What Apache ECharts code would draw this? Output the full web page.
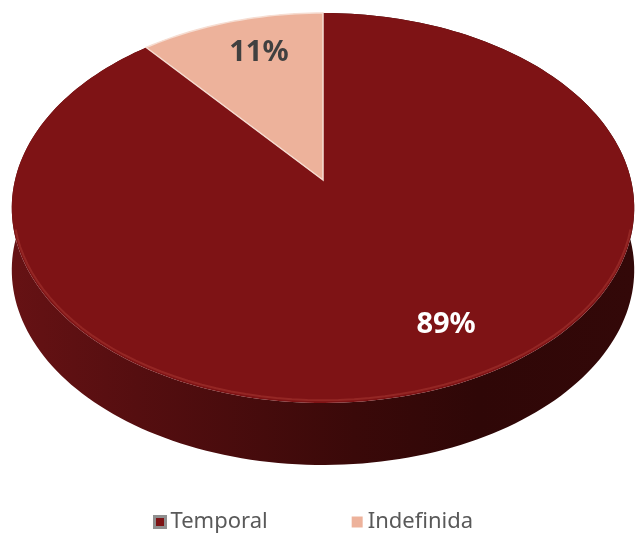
<!DOCTYPE html>
<html>
<head>
<meta charset="utf-8">
<script src="https://cdn.jsdelivr.net/npm/echarts@6/dist/echarts.min.js"></script>
<style>
html, body { margin: 0; padding: 0; background: #fff; }
#container { width: 636px; height: 533px; }
</style>
</head>
<body>
<div id="container"></div>
<script>
var categories = ['Temporal', 'Indefinida'];
var values = [89, 11];
var labels = ['89%', '11%'];

var colors = ['#7e1315', '#edb29b'];
var labelColors = ['#ffffff', '#404040'];
var labelShift = [[36, -5], [7, -5]];

var dom = document.getElementById('container');
var myChart = echarts.init(dom);

// tilted disc seen in perspective
var cx = 323, d = 308, pa = 165.1, pb = 180, pc = -0.1436, depth = 62;
function proj(u, v) {
    var w = 1 + pc * v;
    return [cx + d * u / w, (pa * v + pb) / w];
}
// t: degrees clockwise from 12 o'clock, r: 0..1
function disc(t, r) {
    var a = t * Math.PI / 180;
    return proj(r * Math.sin(a), -r * Math.cos(a));
}

var total = values.reduce(function (s, v) { return s + v; }, 0);
var starts = [];
var acc = 0;
values.forEach(function (v) { starts.push(acc / total * 360); acc += v; });

var wallColor = new echarts.graphic.LinearGradient(12, 0, 634, 0, [
    { offset: 0, color: '#661214' },
    { offset: 0.2, color: '#550e10' },
    { offset: 0.55, color: '#3a0909' },
    { offset: 0.75, color: '#2f0707' },
    { offset: 1, color: '#330808' }
], true);

function makeRender(i) {
    return function (params, api) {
        var t0 = starts[i];
        var t1 = t0 + api.value(0) / total * 360;
        var n = Math.max(6, Math.ceil((t1 - t0) / 1.5));
        var arc = [];
        for (var k = 0; k <= n; k++) arc.push(disc(t0 + (t1 - t0) * k / n, 1));
        var top = [disc(0, 0)].concat(arc);
        var bottom = arc.map(function (p) { return [p[0], p[1] + depth]; }).reverse();

        // front rim highlight
        var rim = [];
        var r0 = Math.max(t0, 105), r1 = Math.min(t1, 255);
        for (var j = 0; r1 > r0 && j <= 60; j++) {
            var p = disc(r0 + (r1 - r0) * j / 60, 0.995);
            rim.push([p[0], p[1] - 1.5]);
        }

        var mid = (t0 + t1) / 2;
        var lp = disc(mid, 0.75);
        var children = [
            {
                type: 'polygon', z2: 0,
                shape: { points: arc.concat(bottom) },
                style: { fill: i === 0 ? wallColor : '#c98e78' }
            },
            {
                type: 'polygon', z2: 10,
                shape: { points: top },
                style: {
                    fill: colors[i],
                    stroke: i === 1 ? '#f6ddd2' : null,
                    lineWidth: i === 1 ? 1.5 : 0
                }
            },
            {
                type: 'text', z2: 30,
                x: lp[0] + labelShift[i][0],
                y: lp[1] + labelShift[i][1],
                style: {
                    text: labels[i],
                    fill: labelColors[i],
                    font: 'bold 29px "Noto Sans", sans-serif',
                    align: 'center',
                    verticalAlign: 'middle'
                }
            }
        ];
        if (rim.length) {
            children.push({
                type: 'polyline', z2: 12,
                shape: { points: rim },
                style: { stroke: '#a3332e', lineWidth: 2, opacity: 0.6, fill: null }
            });
        }
        return { type: 'group', children: children };
    };
}

var option = {
    animation: false,
    legend: {
        data: [
            { name: categories[0], itemStyle: { borderColor: '#8f8f8f', borderWidth: 3 } },
            { name: categories[1] }
        ],
        left: 148,
        top: 506,
        icon: 'rect',
        itemWidth: 11,
        itemHeight: 11,
        itemGap: 84,
        textStyle: { fontSize: 22, color: '#595959', fontFamily: 'Noto Sans' }
    },
    series: categories.map(function (name, i) {
        return {
            type: 'custom',
            name: name,
            coordinateSystem: 'none',
            itemStyle: { color: colors[i] },
            data: [[values[i]]],
            renderItem: makeRender(i)
        };
    })
};

if (option && typeof option === 'object') {
    myChart.setOption(option, true);
}
</script>
</body>
</html>
